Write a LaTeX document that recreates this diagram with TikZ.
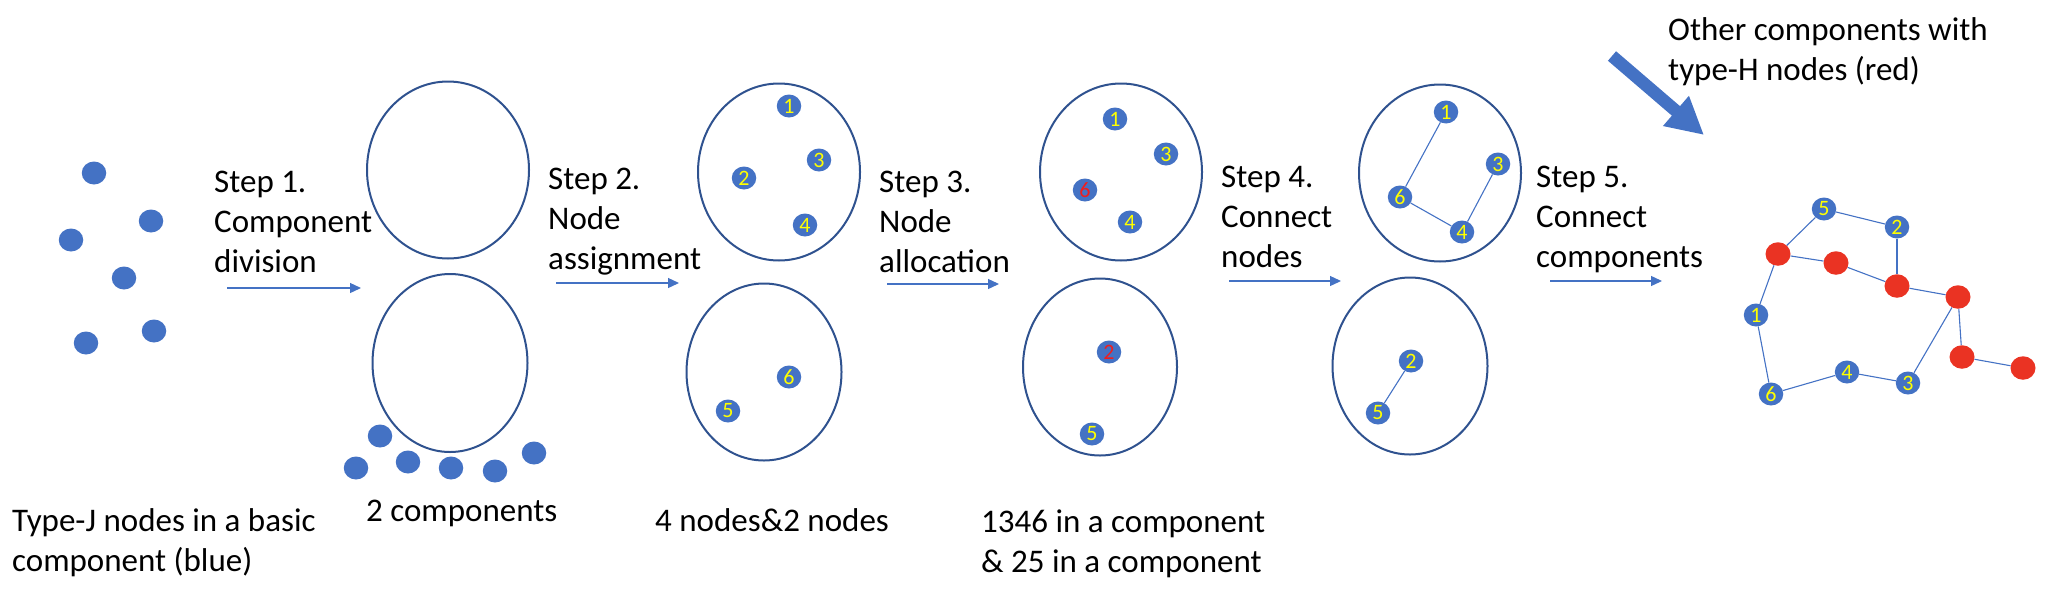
\documentclass[tikz,border=0pt]{standalone}
\usepackage{fontspec}
\setmainfont{Carlito}
\usetikzlibrary{shapes.geometric,arrows.meta}
\definecolor{nblue}{RGB}{68,114,196}
\definecolor{cblue}{RGB}{47,82,143}
\definecolor{hred}{RGB}{234,51,35}
\definecolor{lyellow}{RGB}{255,255,0}
\definecolor{lred}{RGB}{240,30,30}
\begin{document}
\begin{tikzpicture}[x=1pt,y=-1pt,
  dot/.style={ellipse,fill=nblue,minimum width=24.5pt,minimum height=23pt,inner sep=0pt,font=\fontsize{22}{22}\selectfont,text=lyellow},
  rdot/.style={dot,fill=hred,minimum width=25pt,minimum height=23.5pt},
  comp/.style={ellipse,draw=cblue,line width=2pt,inner sep=0pt},
  lbl/.style={anchor=base west,inner sep=0pt,align=left,font=\fontsize{33}{40}\selectfont},
  steparrow/.style={draw=nblue,line width=1.3pt,-{Triangle[length=11pt,width=10pt]}},
  link/.style={draw=nblue,line width=1.1pt}]
\useasboundingbox (0,0) rectangle (2068,600);

% ---- initial nodes
\node[dot] (j1) at (94,173) {};
\node[dot] (j2) at (151,221) {};
\node[dot] (j3) at (71,240) {};
\node[dot] (j4) at (124,278) {};
\node[dot] (j5) at (154,331) {};
\node[dot] (j6) at (86,343) {};

% ---- step 1 components
\node[comp,minimum width=162pt,minimum height=177pt] (c1a) at (448,170) {};
\node[comp,minimum width=155pt,minimum height=178pt] (c1b) at (450,363) {};
\node[dot] (k1) at (380,436) {};
\node[dot] (k2) at (356,468) {};
\node[dot] (k3) at (408,462) {};
\node[dot] (k4) at (451,468) {};
\node[dot] (k5) at (495,471) {};
\node[dot] (k6) at (534,453) {};

% ---- step 2 components
\node[comp,minimum width=162pt,minimum height=177pt] (c2a) at (779,172) {};
\node[comp,minimum width=155pt,minimum height=177pt] (c2b) at (764,372) {};
\node[dot] (a1) at (789,106) {1};
\node[dot] (a3) at (819,160) {3};
\node[dot] (a2) at (744,178) {2};
\node[dot] (a4) at (805,225) {4};
\node[dot] (a6) at (789,377) {6};
\node[dot] (a5) at (728,411) {5};

% ---- step 3 components
\node[comp,minimum width=162pt,minimum height=177pt] (c3a) at (1121,172) {};
\node[comp,minimum width=154pt,minimum height=177pt] (c3b) at (1100,367) {};
\node[dot] (b1) at (1115,119) {1};
\node[dot] (b3) at (1166,154) {3};
\node[dot,text=lred] (b6) at (1085,190) {6};
\node[dot] (b4) at (1130,222) {4};
\node[dot,text=lred] (b2) at (1109,352) {2};
\node[dot] (b5) at (1092,434) {5};

% ---- step 4 components
\node[comp,minimum width=162pt,minimum height=177pt] (c4a) at (1440,173) {};
\node[comp,minimum width=155pt,minimum height=177pt] (c4b) at (1410,366) {};
\node[dot] (d1) at (1446,112) {1};
\node[dot] (d3) at (1498,164) {3};
\node[dot] (d6) at (1400,197) {6};
\node[dot] (d4) at (1462,232) {4};
\node[dot] (d2) at (1411,361) {2};
\node[dot] (d5) at (1378,413) {5};
\draw[link] (d1) -- (d6);
\draw[link] (d3) -- (d4);
\draw[link] (d6) -- (d4);
\draw[link] (d2) -- (d5);

% ---- final graph
\node[dot] (f5) at (1824,209) {5};
\node[dot] (f2) at (1897,227) {2};
\node[rdot] (rA) at (1778,254) {};
\node[rdot] (rB) at (1836,263) {};
\node[rdot] (rC) at (1897,286) {};
\node[rdot] (rD) at (1958,297) {};
\node[dot] (f1) at (1756,315) {1};
\node[rdot] (rE) at (1962,357) {};
\node[rdot] (rF) at (2023,368) {};
\node[dot] (f4) at (1847,372) {4};
\node[dot] (f3) at (1908,383) {3};
\node[dot] (f6) at (1771,394) {6};
\draw[link] (f5) -- (rA);
\draw[link] (f5) -- (f2);
\draw[link] (f2) -- (rC);
\draw[link] (rA) -- (rB);
\draw[link] (rB) -- (rC);
\draw[link] (rC) -- (rD);
\draw[link] (rA) -- (f1);
\draw[link] (f1) -- (f6);
\draw[link] (f6) -- (f4);
\draw[link] (f4) -- (f3);
\draw[link] (f3) -- (rD);
\draw[link] (rD) -- (rE);
\draw[link] (rE) -- (rF);

% ---- step arrows
\coordinate (s1a) at (227,288); \coordinate (s1b) at (361,288);
\coordinate (s2a) at (556,283); \coordinate (s2b) at (679,283);
\coordinate (s3a) at (887,284); \coordinate (s3b) at (999,284);
\coordinate (s4a) at (1229,281); \coordinate (s4b) at (1341,281);
\coordinate (s5a) at (1550,281); \coordinate (s5b) at (1662,281);
\draw[steparrow] (s1a) -- (s1b);
\draw[steparrow] (s2a) -- (s2b);
\draw[steparrow] (s3a) -- (s3b);
\draw[steparrow] (s4a) -- (s4b);
\draw[steparrow] (s5a) -- (s5b);

% ---- big arrow
\coordinate (bigtail) at (1612,56);
\coordinate (bigtip) at (1704,135);
\draw[nblue,line width=12.5pt,-{Triangle[length=37pt,width=37pt]}] (bigtail) -- (bigtip);

% ---- labels (anchor = baseline of the last line)
\node[lbl] (t1) at (214,272) {Step 1.\\Component\\division};
\node[lbl] (t2) at (548,269) {Step 2.\\Node\\assignment};
\node[lbl] (t3) at (879,272) {Step 3.\\Node\\allocation};
\node[lbl] (t4) at (1221,267) {Step 4.\\Connect\\nodes};
\node[lbl] (t5) at (1536,267) {Step 5.\\Connect\\components};
\node[lbl] (t6) at (1668,80) {Other components with\\type-H nodes (red)};
\node[lbl] (b1t) at (12,571) {Type-J nodes in a basic\\component (blue)};
\node[lbl] (b2t) at (366,521) {2 components};
\node[lbl] (b3t) at (655,531) {4 nodes\&2 nodes};
\node[lbl] (b4t) at (981,572) {1346 in a component\\\& 25 in a component};
\end{tikzpicture}
\end{document}
